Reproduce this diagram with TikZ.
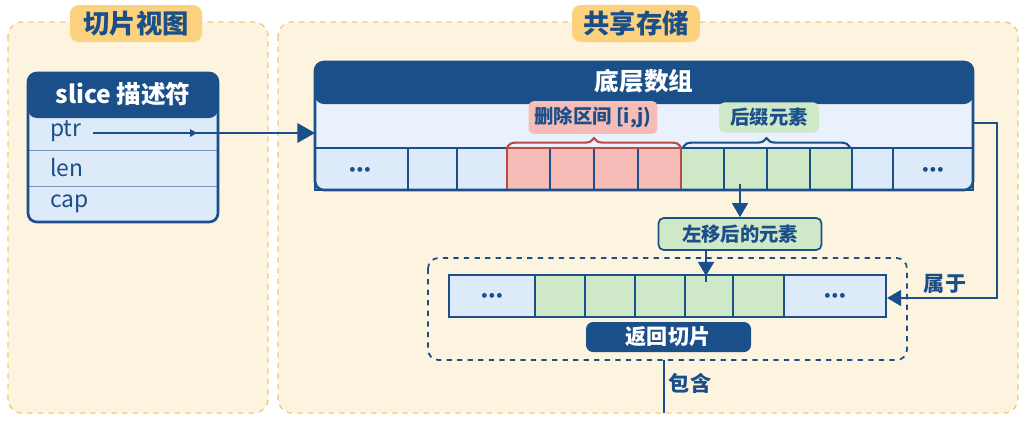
\documentclass[tikz,border=0pt]{standalone}
\usepackage{fontspec}
\setmainfont{Noto Sans CJK SC}
\usetikzlibrary{arrows.meta,decorations.pathreplacing}
\definecolor{dkblue}{HTML}{1B4F8A}
\definecolor{ltblue}{HTML}{DCEAF9}
\definecolor{paleblue}{HTML}{E9F2FC}
\definecolor{panel}{HTML}{FDF4DF}
\definecolor{panelrule}{HTML}{F3CB74}
\definecolor{tab}{HTML}{FDD27E}
\definecolor{redfill}{HTML}{F6BDB8}
\definecolor{redrule}{HTML}{B94A48}
\definecolor{greenfill}{HTML}{CFE8C8}
\newcommand{\celldots}{\textbf{$\bullet\!\bullet\!\bullet$}}
\tikzset{
  panel/.style={draw=panelrule,fill=panel,dashed,rounded corners=8pt,line width=.8pt},
  tab/.style={fill=tab,rounded corners=5pt,text=dkblue,font=\bfseries\fontsize{15}{17}\selectfont},
  cell/.style={draw=dkblue,line width=.6pt},
  label/.style={rounded corners=3pt,font=\bfseries\fontsize{11}{13}\selectfont,text=dkblue},
  field/.style={anchor=west,text=dkblue,font=\fontsize{13}{15}\selectfont},
  link/.style={draw=dkblue,line width=1.3pt,-{Triangle[length=8pt,width=9pt]}},
  dots/.style={text=dkblue,font=\fontsize{6}{7}\selectfont}
}
\begin{document}
\begin{tikzpicture}[x=0.02cm,y=-0.02cm]
      \useasboundingbox (0,0) rectangle (1024,427);
      \fill[white] (0,0) rectangle (1024,427);

      % panels
      \draw[panel] (8,22) rectangle (268,413);
      \draw[panel] (278,22) rectangle (1018,413);
      \fill[tab] (70,5) rectangle (202,42);
      \node[tab] (tabL) at (136,23.5) {切片视图};
      \fill[tab] (572,5) rectangle (700,42);
      \node[tab] (tabR) at (636,23.5) {共享存储};

      % slice header
      \fill[ltblue] (28,110) rectangle (218,222);
      \fill[dkblue,rounded corners=5pt] (28,73) rectangle (218,118);
      \fill[dkblue] (28,105) rectangle (218,113);
      \foreach \y in {150,186} { \draw[dkblue!60,line width=.5pt] (28,\y) -- (218,\y); }
      \draw[dkblue,line width=1.5pt,rounded corners=5pt] (28,73) rectangle (218,222);
      \node[text=white,font=\bfseries\fontsize{14}{16}\selectfont] (slice) at (123,94) {slice 描述符};
      \node[field] (ptr) at (44,131) {ptr};
      \node[field] (len) at (44,168) {len};
      \node[field] (cap) at (44,204) {cap};

      % array
      \fill[paleblue] (315,95) rectangle (973,190);
      \fill[dkblue,rounded corners=5pt] (315,62) rectangle (973,104);
      \fill[dkblue] (315,92) rectangle (973,100);
      \node[text=white,font=\bfseries\fontsize{14}{16}\selectfont] (arr) at (644,81) {底层数组};
      \foreach \a/\b/\c in {315/408/ltblue,408/457/ltblue,457/507/ltblue,
          507/550/redfill,550/594/redfill,594/638/redfill,638/681/redfill,
          681/724/greenfill,724/767/greenfill,767/810/greenfill,810/852/greenfill,
          852/893/ltblue,893/973/ltblue} {
        \draw[cell,fill=\c] (\a,148) rectangle (\b,190);
      }
      \draw[redrule,line width=.8pt] (507,148) rectangle (681,190);
      \draw[dkblue,line width=1.5pt,rounded corners=5pt] (315,62) rectangle (973,190);
      \node[dots] (d1) at (360,170) {\celldots};
      \node[dots] (d2) at (933,170) {\celldots};

      % braces and labels
      \draw[redrule,line width=1.2pt,decorate,decoration={brace,amplitude=5pt}] (507,147) -- (681,147);
      \draw[dkblue,line width=1.2pt,decorate,decoration={brace,amplitude=5pt}] (683,147) -- (850,147);
      \node[label,fill=redfill,minimum height=27*0.02cm,minimum width=125*0.02cm] (del) at (593,117.5) {删除区间 [i,j)};
      \node[label,fill=greenfill,minimum height=27*0.02cm,minimum width=100*0.02cm] (suf) at (769,117.5) {后缀元素};

      % shifted
      \node[label,draw=dkblue,line width=1pt,fill=greenfill,minimum width=163*0.02cm,minimum height=32*0.02cm] (shift) at (740,234) {左移后的元素};
      \path (740,184) coordinate (g2);
      \draw[link] (g2) -- (shift.north);

      % result
      \draw[dkblue,dashed,line width=1pt,rounded corners=6pt] (428,258) rectangle (907,360);
      \foreach \a/\b/\c in {449/535/ltblue,535/585/greenfill,585/635/greenfill,635/685/greenfill,
          685/733/greenfill,733/784/greenfill,784/886/ltblue} {
        \draw[cell,fill=\c] (\a,275) rectangle (\b,317);
      }
      \node[dots] (d3) at (492,296) {\celldots};
      \node[dots] (d4) at (835,296) {\celldots};
      \path (706,276) coordinate (r4);
      \path (706,282) coordinate (r4b);
      \draw[link] (shift.south -| r4) -- (r4);
      \draw[dkblue,line width=1.3pt] (r4) -- (r4b);
      \fill[dkblue,rounded corners=4pt] (586,322) rectangle (751,352);
      \node[text=white,font=\bfseries\fontsize{12}{14}\selectfont] (ret) at (668,337) {返回切片};

      % ptr link
      \path (315,133) coordinate (arrL);
      \draw[dkblue,line width=1.3pt,-{Triangle[length=10pt,width=11pt]}] (93,133) -- (arrL);
      \fill[dkblue] (190,129) -- (197,133) -- (190,137) -- cycle;

      % belongs to
      \path (973,123) coordinate (b1);
      \path (997,298) coordinate (b2);
      \path (887,298) coordinate (b3);
      \draw[link] (b1) -| (b2) -- (b3);
      \node[text=dkblue,font=\bfseries\fontsize{12}{14}\selectfont] (belong) at (945,284) {属于};

      % contains
      \path (664,360) coordinate (c1);
      \path (664,413) coordinate (c2);
      \draw[dkblue,line width=1.3pt] (c1) -- (c2);
      \node[text=dkblue,font=\bfseries\fontsize{12}{14}\selectfont] (contain) at (690,383) {包含};

    \end{tikzpicture}
\end{document}
